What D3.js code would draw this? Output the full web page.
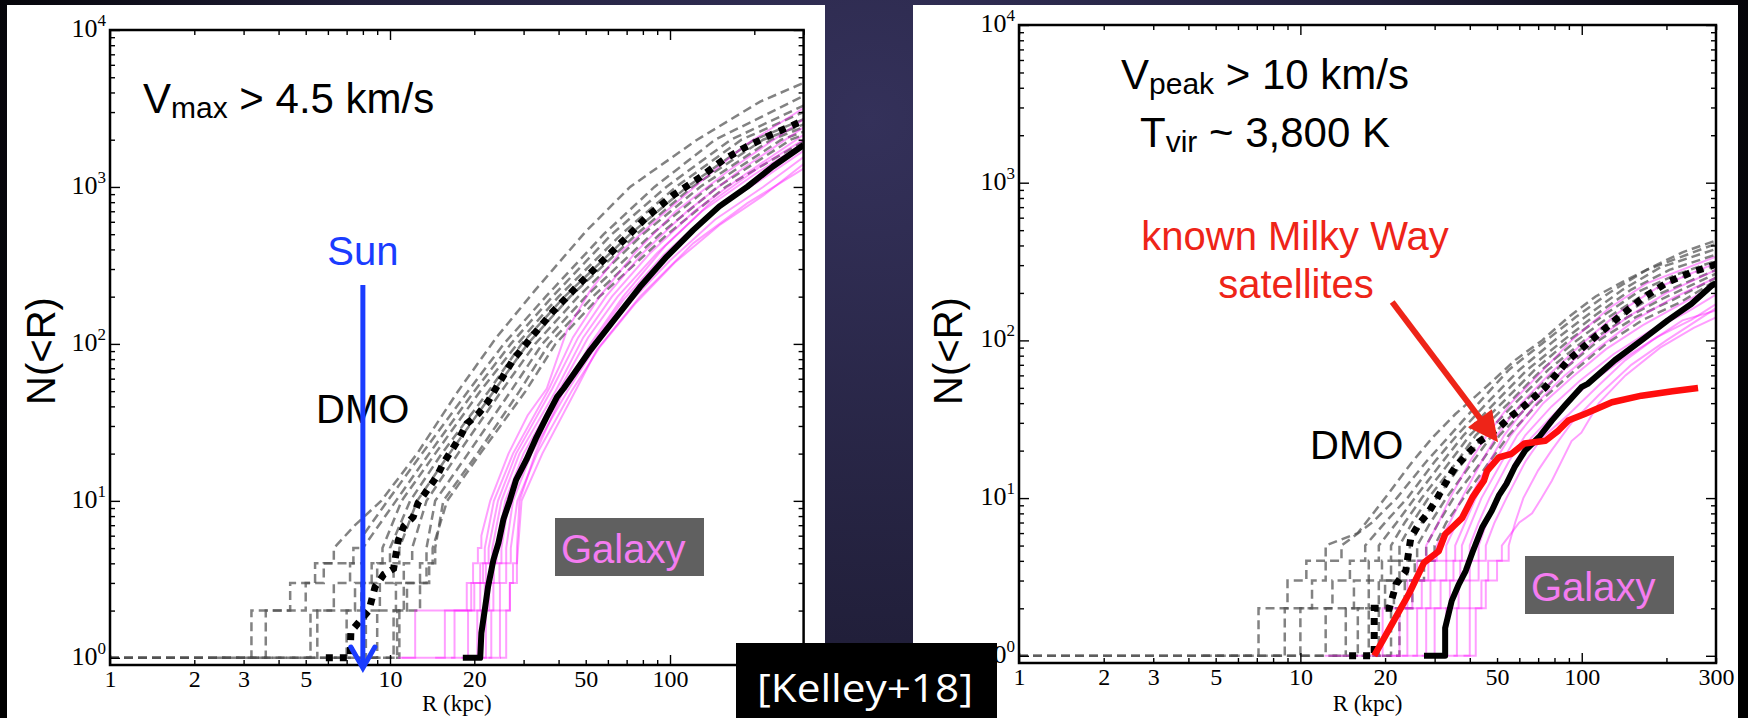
<!DOCTYPE html>
<html>
<head>
<meta charset="utf-8">
<script src="https://d3js.org/d3.v7.min.js"></script>
<style>
  html, body { margin: 0; padding: 0; background: #000; overflow: hidden; }
  text { white-space: pre; }
</style>
</head>
<body>
<svg id="slide" width="1748" height="718"></svg>
<script>
/*
 * Cumulative radial distribution of subhaloes, N(<R), DMO vs Galaxy hosts
 * two panels side by side, log-log
 */

// ---- axes ----
var rDomain = [1, 300];
var nDomain = [0.9, 10000];
var xTickLabelsL = [1, 2, 3, 5, 10, 20, 50, 100];
var xTickLabelsR = [1, 2, 3, 5, 10, 20, 50, 100, 300];
var xMajorTicks = [1, 10, 100];
var yDecades = [1, 10, 100, 1000, 10000];

// ---- left panel (Vmax > 4.5 km/s) ----
// mean of DMO hosts (thick dotted) [R kpc, N]
var dmoMeanL = [[5.9, 1], [7.2, 1], [7.25, 1.47], [8.4, 2.0], [8.85, 2.84], [9.5, 3.4], [10.3, 3.7], [10.7, 5.6],
  [11.2, 6.9], [12.1, 7.9], [12.6, 9.7], [13.7, 12], [14.7, 14.3], [15.5, 17.4], [16.6, 21], [17.8, 25.6],
  [18.8, 31], [20.7, 36], [22.4, 43], [24, 53], [27.5, 79], [32.5, 114], [38.1, 160], [46.4, 231],
  [56.3, 326], [68.3, 458], [82.8, 646], [103, 890], [128, 1150], [155, 1490], [188, 1810], [228, 2140], [300, 2650]];
// mean of galaxy hosts (thick solid)
var galMeanL = [[18.2, 1], [21, 1], [21.2, 1.44], [21.8, 2.02], [22.4, 2.84], [23.4, 4.2], [24.4, 5.4], [25.4, 7.6],
  [26.8, 10.1], [28.2, 13.6], [30.7, 18.3], [33.4, 25.6], [36.3, 34.4], [39.5, 46], [41.7, 52], [51.9, 91],
  [62.9, 141], [78.2, 231], [97.4, 360], [121, 531], [150, 752], [189, 1005], [233, 1350], [300, 1850]];
// individual DMO hosts: steps = radius where count reaches 1,2,3..., tail = [R, N]
var dmoHostsL = [
  {steps: [1, 3.2, 4.4, 5.4, 6.3], tail: [[7.5, 7], [9.3, 10], [12.5, 20], [17.5, 50], [24, 110], [33, 220], [50, 520], [72, 1000], [125, 2000], [210, 3500], [300, 4600]]},
  {steps: [1, 3.6, 5.0, 5.8, 7.4, 8.0], tail: [[9.8, 10], [13, 20], [19, 50], [25.5, 100], [36, 200], [58, 500], [88, 1000], [145, 2000], [300, 3800]]},
  {steps: [2.4, 5.5, 6.3, 7.2, 8.0], tail: [[10.5, 10], [13.8, 20], [20, 50], [27, 100], [38, 200], [62, 500], [97, 1000], [165, 2000], [300, 3300]]},
  {steps: [1, 7.0, 7.9, 8.6, 9.4], tail: [[11, 10], [14.5, 20], [21, 50], [28.5, 100], [40, 200], [67, 500], [105, 1000], [180, 2000], [300, 3000]]},
  {steps: [3.1, 5.2, 7.5, 9.0, 10.0], tail: [[11.8, 10], [15.3, 20], [22.5, 50], [29.5, 100], [42, 200], [72, 500], [115, 1000], [200, 2000], [300, 2700]]},
  {steps: [5.0, 8.2, 9.2, 10.3, 10.8], tail: [[12.5, 10], [16.3, 20], [23.5, 50], [31, 100], [44, 200], [76, 500], [120, 1000], [215, 2000], [300, 2500]]},
  {steps: [6.0, 9.0, 10.5, 11.2, 12.0], tail: [[13.5, 10], [17.5, 20], [25, 50], [33, 100], [47, 200], [80, 500], [128, 1000], [230, 2000], [300, 2400]]},
  {steps: [7.5, 10.3, 11.5, 12.8, 13.5], tail: [[14.5, 10], [19, 20], [27, 50], [35, 100], [50, 200], [86, 500], [138, 1000], [250, 2000], [300, 2250]]},
  {steps: [8.6, 10.6, 12.8, 13.8, 14.5], tail: [[15.5, 10], [20.5, 20], [29, 50], [37, 100], [53, 200], [92, 500], [148, 1000], [270, 2000], [300, 2150]]},
  {steps: [10.5, 10.8, 11.2, 13.5, 14.2], tail: [[16, 10], [21, 20], [30.5, 50], [39, 100], [56, 200], [98, 500], [158, 1000], [300, 1950]]}
];
// individual galaxy hosts
var galHostsL = [
  {steps: [10.7, 12.3, 18.8, 19.8, 20.6, 21.2], tail: [[22.8, 10], [26.5, 20], [31, 35], [36.3, 52], [42.9, 123], [52, 220], [66, 378], [92, 646], [134, 1150], [189, 1890], [300, 3180]]},
  {steps: [11.0, 15.7, 19.5, 21.0, 21.8], tail: [[23.5, 10], [27.5, 20], [37, 52], [45, 110], [56, 200], [75, 380], [105, 700], [160, 1250], [300, 2700]]},
  {steps: [14.5, 17.0, 20.0, 21.5, 22.5], tail: [[24.3, 10], [28.2, 20], [38, 52], [47, 110], [59, 200], [80, 380], [115, 700], [175, 1250], [300, 2400]]},
  {steps: [16.5, 19.0, 21.0, 22.0, 23.2], tail: [[25, 10], [29, 20], [39, 50], [49, 110], [62, 200], [85, 380], [122, 700], [185, 1200], [300, 2150]]},
  {steps: [18.0, 20.5, 21.8, 22.8, 24.0], tail: [[25.8, 10], [30, 20], [40, 50], [51, 110], [65, 200], [90, 380], [130, 700], [200, 1200], [300, 1900]]},
  {steps: [19.5, 21.2, 22.6, 23.5, 25.0], tail: [[26.6, 10], [31, 20], [41.5, 50], [53, 100], [68, 190], [95, 370], [138, 680], [210, 1100], [300, 1700]]},
  {steps: [20.5, 22.0, 23.4, 24.6, 26.0], tail: [[27.5, 10], [32, 20], [43, 50], [55, 100], [71, 180], [100, 340], [145, 620], [215, 1000], [300, 1550]]},
  {steps: [21.5, 23.0, 24.7, 26.0, 27.0], tail: [[28.5, 10], [33.5, 20], [44.5, 50], [56, 95], [75, 180], [104, 330], [150, 570], [215, 880], [300, 1400]]},
  {steps: [22.5, 24.7, 26.8, 28.4], tail: [[29.5, 10], [35, 20], [46.4, 52], [54.7, 91.5], [78, 200], [121, 437], [189, 788], [300, 1310]]},
  {steps: [24.7, 26.0, 26.8, 27.5, 28.4], tail: [[29, 10], [33, 20], [42, 52], [52, 100], [68, 200], [96, 420], [140, 800], [210, 1350], [300, 2000]]}
];

// ---- right panel (Vpeak > 10 km/s) ----
var dmoMeanR = [[14.9, 1], [18.3, 1], [18.3, 2], [20.7, 2], [21.9, 2.85], [23.7, 3.46], [24.7, 5.64], [26.4, 6.85],
  [28.3, 7.95], [30.3, 9.65], [32.7, 12.3], [35.5, 15.7], [39.2, 19], [43, 22.6], [47.9, 26], [50.7, 28],
  [56.7, 33.5], [61.7, 37.6], [74.3, 50.5], [89.5, 74.8], [108, 100], [131, 134], [163, 183], [202, 234],
  [245, 270], [290, 297], [300, 305]];
var galMeanR = [[27.5, 1], [32.7, 1], [32.7, 1.5], [34.5, 2.23], [36.6, 2.85], [38.7, 3.46], [40.9, 4.53], [44.3, 6.53],
  [47.9, 8.3], [50.7, 10.35], [54, 12.3], [57.7, 15.7], [62.9, 20], [70.5, 24.4], [78.3, 31], [87.1, 38.6],
  [99.7, 50.5], [105, 53], [131, 74.8], [163, 100], [202, 134], [245, 170], [290, 223], [300, 230]];
// known Milky Way satellites (red)
var mwSatellites = [[18.3, 1], [21.2, 1.6], [24.4, 2.5], [27.5, 3.9], [31, 4.6], [32.7, 5.9], [37.6, 7.5],
  [40.9, 10.1], [44.9, 12.9], [46.1, 14.9], [50.7, 18.1], [56.3, 19.1], [62.5, 22.2], [74.3, 23.1],
  [82.6, 26.8], [89.5, 31], [103, 34.3], [128, 40.5], [163, 44.6], [210, 47.6], [259, 49.9]];
var dmoHostsR = [
  {steps: [1, 7.1, 9.0, 10.5, 12.3], tail: [[16, 6], [20, 10], [25, 17], [29.6, 24.4], [35.5, 34], [45.6, 50.5], [58, 75], [72.3, 100], [89.5, 140], [112, 190], [143, 240], [178, 292], [228, 362], [300, 430]]},
  {steps: [1, 8.8, 11.0, 12.3, 14.0], tail: [[18, 7], [22, 10], [28, 17], [34, 25], [43, 40], [55, 65], [72, 95], [95, 140], [125, 200], [170, 280], [300, 410]]},
  {steps: [4.5, 10.0, 13.0, 15.0, 17.0], tail: [[20, 7], [24, 10], [30, 17], [36, 25], [46, 40], [60, 65], [80, 100], [105, 145], [140, 210], [190, 290], [300, 380]]},
  {steps: [8.0, 12.3, 15.5, 17.5, 19.0], tail: [[22, 7], [25.5, 10], [32, 17], [38, 25], [49, 40], [64, 65], [86, 100], [112, 145], [150, 210], [205, 280], [300, 350]]},
  {steps: [10.0, 14.5, 17.5, 19.5, 21.0], tail: [[23.5, 7], [27, 10], [34, 17], [40, 25], [52, 40], [68, 65], [90, 100], [120, 145], [160, 205], [215, 260], [300, 320]]},
  {steps: [13.0, 16.0, 19.0, 21.0, 22.5], tail: [[25, 7], [28.5, 10], [36, 17], [42, 25], [55, 40], [72, 65], [96, 100], [128, 145], [170, 200], [225, 250], [300, 300]]},
  {steps: [14.9, 17.5, 20.0, 22.5, 24.5], tail: [[27, 7], [30.5, 10], [38, 17], [45, 25], [58, 40], [76, 65], [102, 100], [135, 140], [180, 190], [300, 280]]},
  {steps: [16.5, 19.0, 21.5, 24.0, 26.0], tail: [[29, 7], [33, 10], [41, 17], [48, 25], [62, 40], [81, 65], [108, 100], [145, 140], [195, 185], [300, 265]]},
  {steps: [18.0, 21.0, 23.5, 25.5, 28.0], tail: [[31, 7], [35, 10], [44, 17], [51, 25], [66, 40], [86, 65], [115, 100], [155, 140], [210, 180], [300, 250]]},
  {steps: [19.5, 22.5, 25.0, 27.5, 30.0], tail: [[33, 7], [38, 10], [47, 17], [55, 25], [70, 40], [92, 62], [122, 95], [165, 135], [225, 175], [300, 240]]}
];
var galHostsR = [
  {steps: [12.2, 19.6, 24.0, 26.0, 28.0], tail: [[31, 7], [34, 10], [40, 17], [46, 25], [56, 40], [70, 60], [92, 100], [125, 160], [170, 230], [300, 340]]},
  {steps: [19.6, 22.5, 25.0, 28.5, 30.5], tail: [[34, 7], [37.5, 10], [44, 17], [50, 25], [61, 40], [76, 60], [100, 95], [135, 150], [185, 215], [300, 310]]},
  {steps: [21.0, 24.0, 27.0, 30.0, 33.0], tail: [[36, 7], [40, 10], [47, 17], [53, 25], [65, 40], [82, 60], [108, 95], [145, 140], [200, 200], [300, 280]]},
  {steps: [23.0, 26.0, 29.0, 33.0, 35.5], tail: [[38.5, 7], [42, 10], [49, 17], [56, 25], [69, 40], [87, 60], [115, 90], [155, 135], [210, 185], [300, 250]]},
  {steps: [25.0, 28.0, 31.5, 35.0, 37.5], tail: [[40.5, 7], [44, 10], [52, 17], [59, 25], [73, 40], [92, 58], [122, 88], [165, 125], [225, 170], [300, 225]]},
  {steps: [27.0, 30.0, 34.0, 37.0, 40.0], tail: [[43, 7], [47, 10], [55, 17], [63, 25], [78, 38], [98, 55], [130, 82], [175, 115], [235, 150], [300, 195]]},
  {steps: [29.0, 33.0, 36.5, 40.0, 43.0], tail: [[46, 7], [50, 10], [58, 17], [66, 24], [82, 36], [105, 52], [138, 75], [185, 105], [245, 135], [300, 170]]},
  {steps: [31.0, 36.0, 40.0, 43.0, 45.6], tail: [[49, 7], [54, 10], [63, 17], [72, 24], [90, 34], [115, 52], [143, 75], [178, 100], [228, 134], [300, 155]]},
  {steps: [35.0, 40.0, 44.0, 46.5, 52.0], tail: [[60, 7], [66.6, 8], [72, 10], [78.3, 12.9], [92, 23], [99.7, 26], [115, 40], [143, 60], [190, 90], [250, 120], [300, 140]]},
  {steps: [38.0, 42.0, 45.6, 50.0, 55.0], tail: [[58, 7], [62, 10], [70, 15], [78, 20], [92, 30], [115, 45], [150, 70], [200, 100], [300, 160]]}
];

var svg = d3.select('#slide');
var sansFont = '"Liberation Sans", Arial, Helvetica, sans-serif';
var serifFont = '"Liberation Serif", "Times New Roman", serif';

// background of the slide
var defs = svg.append('defs');
var bg = defs.append('radialGradient').attr('id', 'bgGrad')
  .attr('gradientUnits', 'userSpaceOnUse').attr('cx', 870).attr('cy', 120).attr('r', 950);
bg.append('stop').attr('offset', '0').attr('stop-color', '#34315a');
bg.append('stop').attr('offset', '0.55').attr('stop-color', '#211f3a');
bg.append('stop').attr('offset', '1').attr('stop-color', '#000');
svg.append('rect').attr('width', 1748).attr('height', 718).attr('fill', 'url(#bgGrad)');

// white cards behind each plot
svg.append('rect').attr('x', 7).attr('y', 5).attr('width', 818).attr('height', 713).attr('fill', '#fff');
svg.append('rect').attr('x', 913).attr('y', 5).attr('width', 825).attr('height', 713).attr('fill', '#fff');

/*
 * turn a host (step radii + smooth tail) into a list of points,
 * the first part drawn as a staircase like a cumulative count
 */
function hostPoints(h) {
  var pts = [];
  h.steps.forEach(function (r, i) {
    if (i > 0) pts.push([r, i]);
    pts.push([r, i + 1]);
  });
  return pts.concat(h.tail);
}

// minor tick values between decades
function minorTicks(lo, hi) {
  var out = [];
  for (var k = 0; k <= 4; k++) {
    for (var m = 2; m <= 9; m++) {
      var v = m * Math.pow(10, k);
      if (v > lo && v < hi) out.push(v);
    }
  }
  return out;
}

/*
 * draw one panel
 */
function drawPanel(cfg) {
  var x = d3.scaleLog().domain(rDomain).range([cfg.left, cfg.right]);
  var y = d3.scaleLog().domain(nDomain).range([cfg.bottom, cfg.top]);
  var g = svg.append('g');

  defs.append('clipPath').attr('id', 'clip-' + cfg.id).append('rect')
    .attr('x', cfg.left).attr('y', cfg.top)
    .attr('width', cfg.right - cfg.left).attr('height', cfg.bottom - cfg.top);

  var plot = g.append('g').attr('clip-path', 'url(#clip-' + cfg.id + ')');
  var line = d3.line().x(function (d) { return x(d[0]); }).y(function (d) { return y(d[1]); });

  // DMO hosts, grey dashed
  plot.selectAll('path.dmo').data(cfg.dmoHosts).enter().append('path')
    .attr('class', 'dmo')
    .attr('d', function (d) { return line(hostPoints(d)); })
    .attr('fill', 'none').attr('stroke', '#4d4d4d').attr('stroke-opacity', 0.7)
    .attr('stroke-width', 2.5).attr('stroke-dasharray', '9,5');

  // galaxy hosts, light magenta
  plot.selectAll('path.gal').data(cfg.galHosts).enter().append('path')
    .attr('class', 'gal')
    .attr('d', function (d) { return line(hostPoints(d)); })
    .attr('fill', 'none').attr('stroke', '#ff00ff').attr('stroke-opacity', 0.38)
    .attr('stroke-width', 2);

  // means
  plot.append('path').datum(cfg.dmoMean).attr('d', line)
    .attr('fill', 'none').attr('stroke', '#000').attr('stroke-width', 7)
    .attr('stroke-dasharray', '7,7');
  plot.append('path').datum(cfg.galMean).attr('d', line)
    .attr('fill', 'none').attr('stroke', '#000').attr('stroke-width', 6)
    .attr('stroke-linejoin', 'round');

  if (cfg.observed) {
    plot.append('path').datum(cfg.observed).attr('d', line)
      .attr('fill', 'none').attr('stroke', '#ff0d0d').attr('stroke-width', 6.5)
      .attr('stroke-linejoin', 'round');
  }

  // frame
  g.append('rect').attr('x', cfg.left).attr('y', cfg.top)
    .attr('width', cfg.right - cfg.left).attr('height', cfg.bottom - cfg.top)
    .attr('fill', 'none').attr('stroke', '#000').attr('stroke-width', 2.5);

  // ticks, all pointing inward
  var xMinor = minorTicks(1, 301);
  var yMinor = minorTicks(1, 10000);
  var axes = [
    [d3.axisBottom(x).tickValues(xMinor).tickSize(-5), 'translate(0,' + cfg.bottom + ')'],
    [d3.axisBottom(x).tickValues(xMajorTicks).tickSize(-10), 'translate(0,' + cfg.bottom + ')'],
    [d3.axisTop(x).tickValues(xMinor).tickSize(-5), 'translate(0,' + cfg.top + ')'],
    [d3.axisTop(x).tickValues(xMajorTicks).tickSize(-10), 'translate(0,' + cfg.top + ')'],
    [d3.axisLeft(y).tickValues(yMinor).tickSize(-5), 'translate(' + cfg.left + ',0)'],
    [d3.axisLeft(y).tickValues(yDecades).tickSize(-10), 'translate(' + cfg.left + ',0)'],
    [d3.axisRight(y).tickValues(yMinor).tickSize(-5), 'translate(' + cfg.right + ',0)'],
    [d3.axisRight(y).tickValues(yDecades).tickSize(-10), 'translate(' + cfg.right + ',0)']
  ];
  axes.forEach(function (a) {
    var ax = g.append('g').attr('transform', a[1]).call(a[0].tickFormat(''));
    ax.select('.domain').remove();
    ax.selectAll('line').attr('stroke', '#000').attr('stroke-width', 1.4);
  });

  // x tick labels
  var xl = g.append('g').attr('transform', 'translate(0,' + cfg.bottom + ')')
    .call(d3.axisBottom(x).tickValues(cfg.xLabels).tickSize(0).tickPadding(5).tickFormat(d3.format('d')));
  xl.select('.domain').remove();
  xl.selectAll('text').attr('font-family', serifFont).attr('font-size', 24).attr('fill', '#000');

  // y tick labels as 10^n
  g.selectAll('text.ylab').data(yDecades).enter().append('text')
    .attr('class', 'ylab')
    .attr('x', cfg.left - 4).attr('y', function (d) { return y(d) + 7; })
    .attr('text-anchor', 'end').attr('font-family', serifFont).attr('fill', '#000')
    .each(function (d) {
      var t = d3.select(this);
      t.append('tspan').attr('font-size', 26).text('10');
      t.append('tspan').attr('font-size', 17).attr('dy', -11).text(String(Math.round(Math.log10(d))));
    });

  // axis titles
  g.append('text').attr('x', (cfg.left + cfg.right) / 2).attr('y', 711)
    .attr('text-anchor', 'middle').attr('font-family', serifFont).attr('font-size', 23)
    .text('R (kpc)');
  g.append('text').attr('transform', 'translate(' + cfg.ylabX + ',351) rotate(-90)')
    .attr('text-anchor', 'middle').attr('font-family', sansFont).attr('font-size', 40)
    .text('N(<R)');

  return {x: x, y: y, g: g};
}

// subscripted label like V_max > 4.5 km/s
function subLabel(parent, xPos, yPos, anchor, main, sub, rest, color) {
  var t = parent.append('text').attr('x', xPos).attr('y', yPos)
    .attr('text-anchor', anchor).attr('font-family', sansFont).attr('fill', color || '#000');
  t.append('tspan').attr('font-size', 42).text(main);
  t.append('tspan').attr('font-size', 30).attr('dy', 5).text(sub);
  t.append('tspan').attr('font-size', 42).attr('dy', -5).text(rest);
  return t;
}

function plainLabel(parent, xPos, yPos, anchor, str, color, size) {
  return parent.append('text').attr('x', xPos).attr('y', yPos)
    .attr('text-anchor', anchor).attr('font-family', sansFont)
    .attr('font-size', size || 40).attr('fill', color).text(str);
}

function galaxyTag(parent, bx, by) {
  parent.append('rect').attr('x', bx).attr('y', by).attr('width', 149).attr('height', 58).attr('fill', '#606060');
  plainLabel(parent, bx + 6, by + 45, 'start', 'Galaxy', '#f47cf0', 40);
}

// ---- left panel ----
var left = drawPanel({
  id: 'L', left: 110, right: 803.6, top: 30, bottom: 665, ylabX: 55, xLabels: xTickLabelsL,
  dmoHosts: dmoHostsL, galHosts: galHostsL, dmoMean: dmoMeanL, galMean: galMeanL
});
subLabel(left.g, 143, 113, 'start', 'V', 'max', ' > 4.5 km/s');
plainLabel(left.g, 316, 423, 'start', 'DMO', '#000');
galaxyTag(left.g, 555, 518);

// Sun marker at 8 kpc
var sunX = left.x(8);
plainLabel(left.g, sunX, 265, 'middle', 'Sun', '#1a3cff', 40);
left.g.append('line').attr('x1', sunX).attr('x2', sunX).attr('y1', 285).attr('y2', 667)
  .attr('stroke', '#1a3cff').attr('stroke-width', 5);
left.g.append('path')
  .attr('d', 'M' + (sunX - 12) + ',647 L' + sunX + ',668 L' + (sunX + 12) + ',647')
  .attr('fill', 'none').attr('stroke', '#1a3cff').attr('stroke-width', 5).attr('stroke-linecap', 'round');

// ---- right panel ----
var right = drawPanel({
  id: 'R', left: 1019, right: 1716, top: 25, bottom: 663, ylabX: 962, xLabels: xTickLabelsR,
  dmoHosts: dmoHostsR, galHosts: galHostsR, dmoMean: dmoMeanR, galMean: galMeanR, observed: mwSatellites
});
subLabel(right.g, 1265, 89, 'middle', 'V', 'peak', ' > 10 km/s');
subLabel(right.g, 1265, 147, 'middle', 'T', 'vir', ' ~ 3,800 K');
plainLabel(right.g, 1295, 250, 'middle', 'known Milky Way', '#ee2418', 40);
plainLabel(right.g, 1296, 298, 'middle', 'satellites', '#ee2418', 40);
plainLabel(right.g, 1310, 459, 'start', 'DMO', '#000');
galaxyTag(right.g, 1525, 556);

// arrow from the label to the satellite curve
var ax0 = right.x(21.2), ay0 = right.y(175);
var ax1 = right.x(50.4), ay1 = right.y(22.6);
var len = Math.hypot(ax1 - ax0, ay1 - ay0);
var ux = (ax1 - ax0) / len, uy = (ay1 - ay0) / len;
var headL = 30, headW = 15;
var bx = ax1 - ux * headL, by = ay1 - uy * headL;
right.g.append('line').attr('x1', ax0).attr('y1', ay0).attr('x2', bx + ux * 4).attr('y2', by + uy * 4)
  .attr('stroke', '#ee2418').attr('stroke-width', 6);
right.g.append('path')
  .attr('d', 'M' + ax1 + ',' + ay1 + ' L' + (bx - uy * headW) + ',' + (by + ux * headW) +
    ' L' + (bx + uy * headW) + ',' + (by - ux * headW) + ' Z')
  .attr('fill', '#ee2418');

// citation tag
svg.append('rect').attr('x', 736).attr('y', 643).attr('width', 261).attr('height', 75).attr('fill', '#000');
svg.append('text').attr('x', 757).attr('y', 702).attr('font-family', '"Open Sans", Lato, sans-serif')
  .attr('font-size', 38).attr('fill', '#fff')
  .attr('textLength', 216).attr('lengthAdjust', 'spacingAndGlyphs')
  .text('[Kelley+18]');
</script>
</body>
</html>
